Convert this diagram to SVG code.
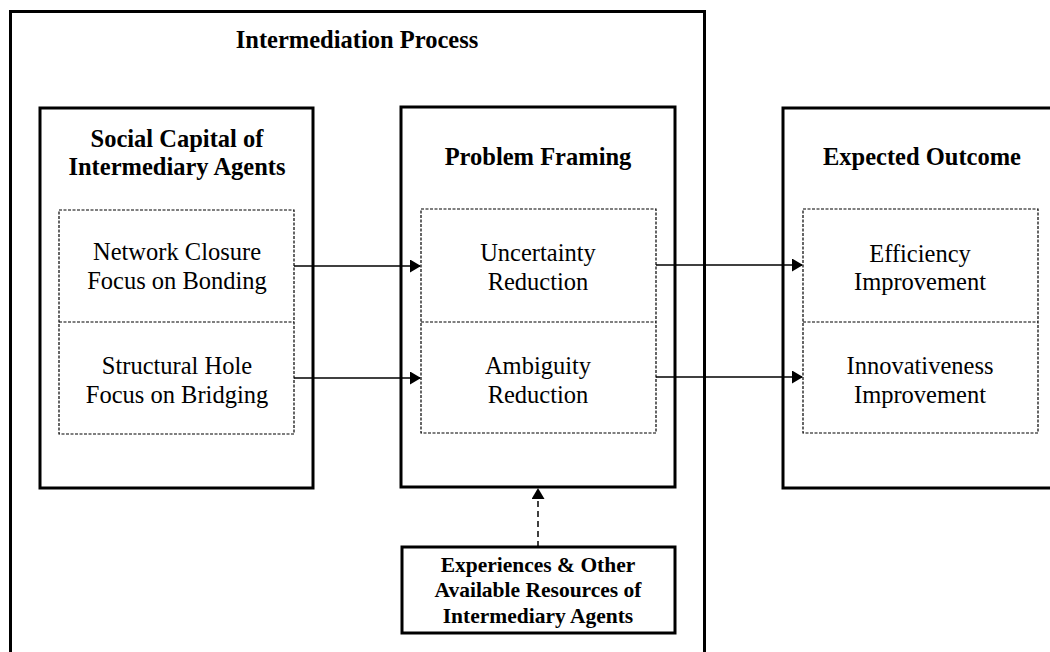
<svg xmlns="http://www.w3.org/2000/svg" width="1050" height="652" viewBox="0 0 1050 652">
<defs>
<style>
.box{fill:none;stroke:#000;stroke-width:3}
.dash{fill:none;stroke:#000;stroke-width:1.2;stroke-dasharray:3,1.5}
.t{font-family:"Liberation Serif","Times New Roman",serif;fill:#000;text-anchor:middle}
.b{font-weight:bold;font-size:24.5px}
.r{font-size:24.5px}
.s{font-weight:bold;font-size:21.5px}
.c{stroke:#000;stroke-width:1.5;fill:none}
</style>
<marker id="ah" markerWidth="11" markerHeight="13" refX="10" refY="6.5" orient="auto" markerUnits="userSpaceOnUse">
<path d="M0,0 L11,6.5 L0,13 Z" fill="#000"/>
</marker>
</defs>
<rect width="1050" height="652" fill="#fff"/>
<g id="process">
<rect class="box" x="10.5" y="11.5" width="694" height="660"/>
<text class="t b" x="357" y="48">Intermediation Process</text>
</g>
<g id="social-capital">
<rect class="box" x="40" y="108" width="273" height="380"/>
<text class="t b" x="177" y="147">Social Capital of</text>
<text class="t b" x="177" y="175">Intermediary Agents</text>
<rect class="dash" x="59" y="210" width="235" height="224"/>
<line class="dash" x1="59" y1="322" x2="294" y2="322"/>
<text class="t r" x="177" y="260">Network Closure</text>
<text class="t r" x="177" y="289">Focus on Bonding</text>
<text class="t r" x="177" y="374">Structural Hole</text>
<text class="t r" x="177" y="403">Focus on Bridging</text>
</g>
<g id="problem-framing">
<rect class="box" x="401" y="107" width="274" height="380"/>
<text class="t b" x="538" y="165">Problem Framing</text>
<rect class="dash" x="421" y="209" width="235" height="224"/>
<line class="dash" x1="421" y1="322" x2="656" y2="322"/>
<text class="t r" x="538" y="261">Uncertainty</text>
<text class="t r" x="538" y="290">Reduction</text>
<text class="t r" x="538" y="374">Ambiguity</text>
<text class="t r" x="538" y="403">Reduction</text>
</g>
<g id="expected-outcome">
<rect class="box" x="783" y="108" width="300" height="380"/>
<text class="t b" x="922" y="165">Expected Outcome</text>
<rect class="dash" x="803" y="209" width="235" height="224"/>
<line class="dash" x1="803" y1="322" x2="1038" y2="322"/>
<text class="t r" x="920" y="262">Efficiency</text>
<text class="t r" x="920" y="290">Improvement</text>
<text class="t r" x="920" y="374">Innovativeness</text>
<text class="t r" x="920" y="403">Improvement</text>
</g>
<g id="experiences">
<rect class="box" x="402" y="547" width="273" height="86"/>
<text class="t s" x="538" y="572">Experiences &amp; Other</text>
<text class="t s" x="538" y="597">Available Resources of</text>
<text class="t s" x="538" y="623">Intermediary Agents</text>
</g>
<g id="connectors">
<line class="c" x1="294" y1="266" x2="420" y2="266" marker-end="url(#ah)"/>
<line class="c" x1="294" y1="378" x2="420" y2="378" marker-end="url(#ah)"/>
<line class="c" x1="656" y1="265" x2="802" y2="265" marker-end="url(#ah)"/>
<line class="c" x1="656" y1="377" x2="802" y2="377" marker-end="url(#ah)"/>
<line class="c" x1="538" y1="547" x2="538" y2="489" stroke-dasharray="6,4" marker-end="url(#ah)"/>
</g>
</svg>
